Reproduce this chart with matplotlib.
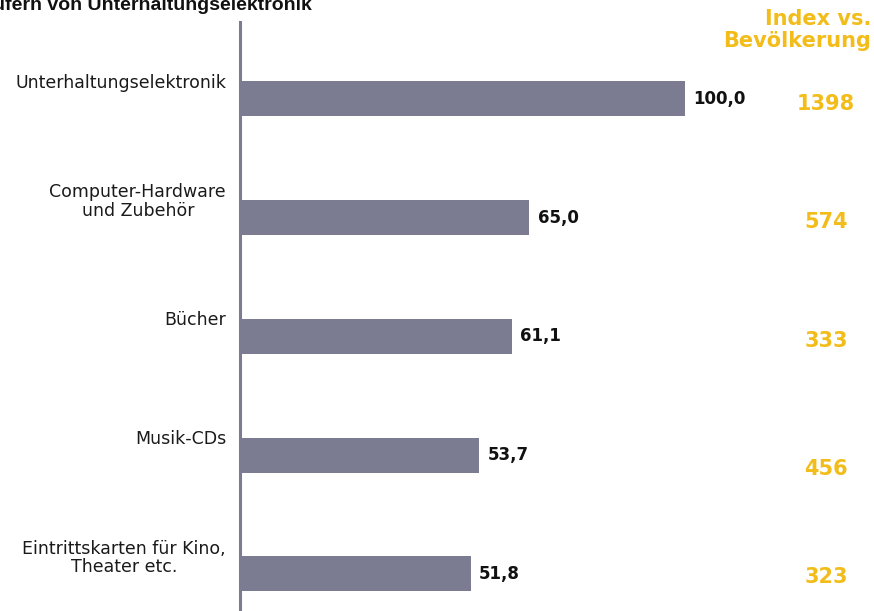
import matplotlib.pyplot as plt

categories = [
    "Unterhaltungselektronik",
    "Computer-Hardware\nund Zubehör",
    "Bücher",
    "Musik-CDs",
    "Eintrittskarten für Kino,\nTheater etc.",
]
shares = [100.0, 65.0, 61.1, 53.7, 51.8]
index_vs_pop = [1398, 574, 333, 456, 323]

BAR = "#7b7b91"
GOLD = "#f2bd1a"
W, H = 874, 611

fig = plt.figure(figsize=(W / 100, H / 100), dpi=100)
fig.patch.set_facecolor("white")

# axes spans from the vertical rule to the right edge; bars are drawn in data units
ax_left, ax_top = 240 / W, 1 - 22 / H
ax = fig.add_axes([ax_left, 0, 1 - ax_left, ax_top])
ax.set_xlim(0, (W - 240) / 4.45)
ax.set_ylim(4.312, -0.648)

ypos = list(range(len(categories)))
ax.barh(ypos, shares, height=0.295, color=BAR, zorder=2)

for s in ["top", "right", "bottom"]:
    ax.spines[s].set_visible(False)
ax.spines["left"].set_color(BAR)
ax.spines["left"].set_linewidth(2.2)
ax.set_xticks([])
ax.set_yticks([])

for y, cat, val in zip(ypos, categories, shares):
    ax.annotate(cat, xy=(0, y), xytext=(-10, 11.5), textcoords="offset points",
                ha="right", va="center", multialignment="center",
                fontsize=12.5, color="#1a1a1a", linespacing=1.05)
    ax.annotate(f"{val:.1f}".replace(".", ","), xy=(val, y), xytext=(6, 0),
                textcoords="offset points", ha="left", va="center",
                fontsize=12, fontweight="bold", color="#111111")

# index column sits at a fixed figure x; 456 is set a little lower
idx_offsets = [-3.5, -3, -3, -10, -2.5]
for y, idx, dy in zip(ypos, index_vs_pop, idx_offsets):
    ax.annotate(str(idx), xy=(826 / W, y), xycoords=("figure fraction", "data"),
                xytext=(0, dy), textcoords="offset points", ha="center", va="center",
                fontsize=15, fontweight="bold", color=GOLD)

fig.text(871 / W, 1 - 9 / H, "Index vs.\nBevölkerung", ha="right", va="top",
         multialignment="right", fontsize=15, fontweight="bold", color=GOLD,
         linespacing=1.15)

fig.text(312 / W, 1 - 10.5 / H, "ufern von Unterhaltungselektronik", ha="right",
         va="baseline", fontsize=14, fontweight="bold", family="Liberation Sans",
         color="#111111")

fig.savefig("out.png", dpi=100, facecolor="white")
